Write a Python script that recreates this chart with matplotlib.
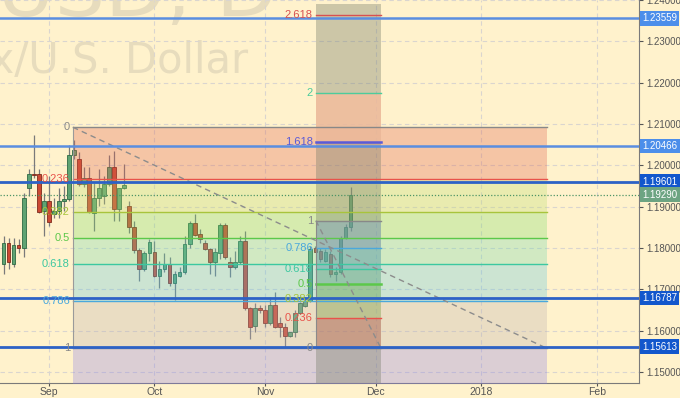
import matplotlib
matplotlib.use("Agg")
import matplotlib.pyplot as plt

plt.rcParams['font.family'] = ['Liberation Sans', 'DejaVu Sans']

# EURUSD daily bars, bar 0 = 2017-08-21 ... bar 69 = 2017-11-24 (trading days only)
opens = [1.1760, 1.1812, 1.1762, 1.1808, 1.1800, 1.1944, 1.1980, 1.1978, 1.1889, 1.1913,
         1.1882, 1.1889, 1.1913, 1.1918, 1.2024, 1.2016, 1.1954, 1.1968, 1.1884, 1.1920,
         1.1925, 1.1954, 1.1997, 1.1894, 1.1944, 1.1901, 1.1851, 1.1796, 1.1748, 1.1788,
         1.1791, 1.1733, 1.1748, 1.1762, 1.1714, 1.1731, 1.1741, 1.1810, 1.1860, 1.1834,
         1.1812, 1.1798, 1.1767, 1.1788, 1.1856, 1.1767, 1.1753, 1.1765, 1.1817, 1.1654,
         1.1611, 1.1654, 1.1649, 1.1618, 1.1661, 1.1618, 1.1609, 1.1587, 1.1597, 1.1642,
         1.1659, 1.1671, 1.1800, 1.1793, 1.1769, 1.1786, 1.1736, 1.1741, 1.1824, 1.1851]
highs = [1.1829, 1.1824, 1.1824, 1.1822, 1.1932, 1.1992, 1.2074, 1.1992, 1.1932, 1.1973,
         1.1920, 1.1944, 1.1949, 1.2050, 1.2062, 1.2031, 1.1997, 1.1997, 1.1956, 1.1990,
         1.1973, 1.2026, 1.2035, 1.1944, 1.2004, 1.1913, 1.1865, 1.1800, 1.1793, 1.1822,
         1.1817, 1.1769, 1.1788, 1.1779, 1.1745, 1.1753, 1.1829, 1.1865, 1.1882, 1.1846,
         1.1819, 1.1800, 1.1800, 1.1860, 1.1860, 1.1777, 1.1793, 1.1829, 1.1841, 1.1657,
         1.1666, 1.1661, 1.1661, 1.1681, 1.1693, 1.1633, 1.1618, 1.1597, 1.1649, 1.1669,
         1.1678, 1.1805, 1.1805, 1.1800, 1.1798, 1.1793, 1.1753, 1.1829, 1.1858, 1.1947]
lows = [1.1738, 1.1750, 1.1753, 1.1788, 1.1777, 1.1925, 1.1968, 1.1884, 1.1829, 1.1853,
        1.1872, 1.1872, 1.1889, 1.1913, 1.2016, 1.1949, 1.1947, 1.1884, 1.1841, 1.1901,
        1.1906, 1.1949, 1.1865, 1.1865, 1.1942, 1.1836, 1.1788, 1.1721, 1.1745, 1.1769,
        1.1729, 1.1702, 1.1741, 1.1707, 1.1673, 1.1729, 1.1738, 1.1800, 1.1829, 1.1812,
        1.1795, 1.1738, 1.1733, 1.1774, 1.1774, 1.1729, 1.1750, 1.1760, 1.1649, 1.1580,
        1.1597, 1.1642, 1.1609, 1.1613, 1.1606, 1.1585, 1.1558, 1.1585, 1.1585, 1.1640,
        1.1657, 1.1669, 1.1791, 1.1765, 1.1765, 1.1729, 1.1721, 1.1738, 1.1822, 1.1841]
closes = [1.1812, 1.1765, 1.1808, 1.1800, 1.1920, 1.1980, 1.1976, 1.1887, 1.1913, 1.1863,
          1.1889, 1.1913, 1.1918, 1.2026, 1.2038, 1.1954, 1.1968, 1.1887, 1.1920, 1.1944,
          1.1954, 1.1997, 1.1894, 1.1944, 1.1952, 1.1851, 1.1796, 1.1748, 1.1788, 1.1815,
          1.1733, 1.1750, 1.1762, 1.1714, 1.1736, 1.1741, 1.1810, 1.1860, 1.1832, 1.1822,
          1.1798, 1.1767, 1.1791, 1.1856, 1.1777, 1.1753, 1.1765, 1.1817, 1.1654, 1.1609,
          1.1654, 1.1649, 1.1618, 1.1661, 1.1609, 1.1609, 1.1587, 1.1597, 1.1642, 1.1666,
          1.1671, 1.1798, 1.1791, 1.1772, 1.1791, 1.1736, 1.1741, 1.1824, 1.1851, 1.1929]

month_ticks = [9, 30, 52, 74, 95, 118]
month_labels = ['Sep', 'Oct', 'Nov', 'Dec', '2018', 'Feb']
price_ticks = [1.15, 1.16, 1.17, 1.18, 1.19, 1.20, 1.21, 1.22, 1.23, 1.24]

levels_h = [1.23559, 1.20466, 1.19601, 1.16787, 1.15613]
levels_dark = [False, False, True, True, True]
last_price = 1.19290

# fib retracement (two anchor points)
fib_x = (13.8, 108.0)
fib_hi, fib_lo = 1.2092, 1.1557
fib_levels = [0, 0.236, 0.382, 0.5, 0.618, 0.786, 1, 1.272]
fib_colors = ['#888888', '#E8524A', '#A8C43C', '#5CC84A', '#3CC8A0', '#4AA8DC', '#888888', '#888888']
fib_fills = ['#DE5F4D', '#B9DB6F', '#7ADB6B', '#69D7AE', '#58C4E0', '#BCAFB1', '#8A7DE7']

# trend based fib extension
ext_x = (62.1, 75.0)
ext_lo, ext_hi = 1.1558, 1.1866
ext_levels = [0, 0.236, 0.382, 0.5, 0.618, 0.786, 1, 1.618, 2, 2.618]
ext_colors = ['#888888', '#E8524A', '#A8C43C', '#5CC84A', '#3CC8A0', '#4AA8DC', '#888888',
              '#5A5AD8', '#4CCC9C', '#D85050']
ext_fills = ['#DE5F4D', '#B9DB6F', '#7ADB6B', '#69D7AE', '#58C4E0', '#6FA0E0',
             None, '#F6BE9E', None]
ext_alpha = [0.3, 0.3, 0.3, 0.3, 0.3, 0.3, 0, 0.8, 0]

BG = '#FFF2CC'
fig = plt.figure(figsize=(6.8, 3.98), dpi=100, facecolor=BG)
ax = fig.add_axes([0, 15 / 398, 639 / 680, 383 / 398])
ax.set_facecolor(BG)
ax.set_xlim(-0.7, 126.33)
ax.set_ylim(1.1473, 1.2391)

# watermark
wm = '#E7DCBD'
ax.text(0.4335, 0.958, 'EURUSD, D', transform=ax.transAxes, ha='right', va='baseline',
        fontsize=57, color=wm, family='DejaVu Sans', zorder=0.5)
ax.text(0.388, 0.8094, 'Euro Fx/U.S. Dollar', transform=ax.transAxes, ha='right',
        va='baseline', fontsize=30, color=wm, family='DejaVu Sans', zorder=0.5)

# grid
for p in price_ticks:
    ax.axhline(p, color='#DAD5CF', lw=0.8, dashes=(4, 3), zorder=0.8)
for t in month_ticks:
    ax.axvline(t, color='#DAD5CF', lw=0.8, dashes=(4, 3), zorder=0.8)

# candles
for i in range(len(opens)):
    o, h, l, c = opens[i], highs[i], lows[i], closes[i]
    up = c >= o
    fc = '#5FA373' if up else '#CC4A34'
    ec = '#2E6A44' if up else '#7E2A1C'
    ax.vlines(i, l, h, color='#7A7A7A', lw=0.9, zorder=2)
    ax.bar(i, max(abs(c - o), 0.00008), bottom=min(o, c), width=0.75, color=fc,
           edgecolor=ec, linewidth=0.6, zorder=2.1)

# fib retracement
rng = fib_hi - fib_lo
fib_prices = [fib_hi - lv * rng for lv in fib_levels]
for k in range(len(fib_fills)):
    ax.fill_between(fib_x, fib_prices[k + 1], fib_prices[k], color=fib_fills[k],
                    alpha=0.3, lw=0, zorder=3)
for k, lv in enumerate(fib_levels[:-1]):
    ax.plot(fib_x, [fib_prices[k]] * 2, color=fib_colors[k], lw=1, zorder=4)
    ax.text(fib_x[0] - 0.6, fib_prices[k], '%g' % lv, color=fib_colors[k], fontsize=8,
            ha='right', va='center', zorder=6)
ax.plot([fib_x[0]] * 2, [fib_hi, fib_lo], color='#9A9A9A', lw=0.8, zorder=4)
ax.plot(fib_x, [fib_hi, fib_lo], color='#8C8C8C', lw=1, dashes=(4, 3), zorder=5)

# fib extension band
ax.fill_between(ext_x, 1.1473, 1.2391, color='#737A66', alpha=0.36, lw=0, zorder=3.5)
erng = ext_hi - ext_lo
ext_prices = [ext_lo + lv * erng for lv in ext_levels]
for k, fc in enumerate(ext_fills):
    if fc:
        ax.fill_between(ext_x, ext_prices[k], ext_prices[k + 1], color=fc,
                        alpha=ext_alpha[k], lw=0, zorder=3.6)
for k, lv in enumerate(ext_levels):
    lw = 1.8 if lv in (0.5, 1.618) else 1
    ax.plot(ext_x, [ext_prices[k]] * 2, color=ext_colors[k], lw=lw, zorder=4)
    ax.text(ext_x[0] - 0.6, ext_prices[k], '%g' % lv, color=ext_colors[k], fontsize=8,
            ha='right', va='center', zorder=6)
ax.plot([ext_x[0]] * 2, [ext_hi, ext_lo], color='#8A8A8A', lw=0.8, zorder=4)
ax.plot(ext_x, [ext_hi, ext_lo], color='#8C8C8C', lw=1, dashes=(4, 3), zorder=5)

# horizontal levels
for p, dark in zip(levels_h, levels_dark):
    ax.axhline(p, color='#2D62C6' if dark else '#5A8EE0', lw=2.0 if dark else 1.8, zorder=5)
ax.axhline(last_price, color='#4E9466', lw=0.9, ls=(0, (1, 1.5)), zorder=5)

# axes
for s in ['top', 'left']:
    ax.spines[s].set_visible(False)
for s in ['right', 'bottom']:
    ax.spines[s].set_color('#7A7A7A')
ax.yaxis.tick_right()
ax.set_yticks(price_ticks)
ax.set_yticklabels(['%.5f' % p for p in price_ticks])
ax.set_xticks(month_ticks)
ax.set_xticklabels(month_labels)
ax.tick_params(axis='y', length=3, pad=2, labelsize=7, colors='#555555')
ax.tick_params(axis='x', length=2, pad=0.8, labelsize=7.5, colors='#555555')

boxes = levels_h + [last_price]
box_cols = ['#4C8EEA', '#4C8EEA', '#1257CC', '#1257CC', '#1257CC', '#6DA482']
for p, col in zip(boxes, box_cols):
    ax.annotate('%.5f' % p, xy=(1, p), xycoords=('axes fraction', 'data'),
                xytext=(3, 0), textcoords='offset pixels', ha='left', va='center',
                fontsize=7, color='white', annotation_clip=False, zorder=10,
                bbox=dict(boxstyle='square,pad=0.25', fc=col, ec='none'))

fig.savefig('out.png', dpi=100, facecolor=BG)
